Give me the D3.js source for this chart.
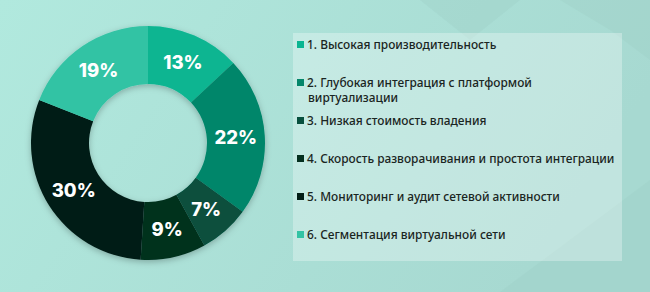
<!DOCTYPE html>
<html>
<head>
<meta charset="utf-8">
<script src="https://cdn.jsdelivr.net/npm/d3@7"></script>
<style>
  html, body { margin: 0; padding: 0; overflow: hidden; }
  svg { display: block; }
</style>
</head>
<body>
<svg id="chart" width="650" height="292"></svg>
<script>
const labels = [
  ['1. Высокая производительность'],
  ['2. Глубокая интеграция с платформой', 'виртуализации'],
  ['3. Низкая стоимость владения'],
  ['4. Скорость разворачивания и простота интеграции'],
  ['5. Мониторинг и аудит сетевой активности'],
  ['6. Сегментация виртуальной сети']
];
const shares = [13, 22, 7, 9, 30, 19];
const colors = ['#0ab591', '#05866a', '#07503e', '#04301f', '#021d16', '#33c3a4'];

const width = 650;
const height = 292;
const svg = d3.select('#chart');

// background
const defs = svg.append('defs');
const bg = defs.append('linearGradient').attr('id', 'bg').attr('x1', 0).attr('y1', 0).attr('x2', 1).attr('y2', 0.3);
bg.append('stop').attr('offset', '0%').attr('stop-color', '#b1e9de');
bg.append('stop').attr('offset', '100%').attr('stop-color', '#a7d9d1');
const shadow = defs.append('filter').attr('id', 'shadow').attr('x', '-20%').attr('y', '-20%').attr('width', '140%').attr('height', '140%');
shadow.append('feDropShadow').attr('dx', 0).attr('dy', 2).attr('stdDeviation', 3).attr('flood-color', '#000').attr('flood-opacity', 0.25);

svg.append('rect').attr('width', width).attr('height', height).attr('fill', 'url(#bg)');

// faint diagonal shapes
svg.append('path')
  .attr('d', 'M560,0 L650,0 L650,60 L610,30 Z M420,0 L520,0 L470,40 Z M500,292 L650,180 L650,292 Z')
  .attr('fill', '#9fcfc6').attr('opacity', 0.35);

// donut
const cx = 148, cy = 143, rOuter = 117, rInner = 59;
const pie = d3.pie().sort(null).value(d => d);
const arc = d3.arc().innerRadius(rInner).outerRadius(rOuter);
const labelArc = d3.arc().innerRadius(88).outerRadius(88);

const g = svg.append('g').attr('transform', `translate(${cx},${cy})`);
g.append('g').attr('filter', 'url(#shadow)')
  .selectAll('path')
  .data(pie(shares))
  .enter()
  .append('path')
  .attr('d', arc)
  .attr('fill', (d, i) => colors[i]);

g.selectAll('.pct')
  .data(pie(shares))
  .enter()
  .append('text')
  .attr('class', 'pct')
  .attr('transform', d => `translate(${labelArc.centroid(d)})`)
  .attr('text-anchor', 'middle')
  .attr('dy', '0.36em')
  .attr('fill', '#fff')
  .attr('font-family', 'Inter, "Noto Sans", sans-serif')
  .attr('font-weight', 800)
  .attr('font-size', 18.5)
  .text(d => d.data + '%');

// legend panel
svg.append('rect')
  .attr('x', 293).attr('y', 33).attr('width', 329).attr('height', 228)
  .attr('fill', '#ffffff').attr('opacity', 0.3);

const y = d3.scalePoint().domain(d3.range(labels.length)).range([45, 235]);

const items = svg.selectAll('.item')
  .data(labels)
  .enter()
  .append('g')
  .attr('class', 'item')
  .attr('transform', (d, i) => `translate(297,${y(i)})`);

items.append('rect')
  .attr('x', 0).attr('y', -4).attr('width', 7).attr('height', 7)
  .attr('fill', (d, i) => colors[i]);

items.append('text')
  .attr('x', 10)
  .attr('font-family', '"Noto Sans", sans-serif')
  .attr('font-weight', 500)
  .attr('font-size', 11.9)
  .attr('fill', '#1a2522')
  .selectAll('tspan')
  .data(d => d)
  .enter()
  .append('tspan')
  .attr('x', (d, i) => i === 0 ? 10 : 11)
  .attr('y', (d, i) => i * 15)
  .attr('dy', '0.35em')
  .text(d => d);
</script>
</body>
</html>
